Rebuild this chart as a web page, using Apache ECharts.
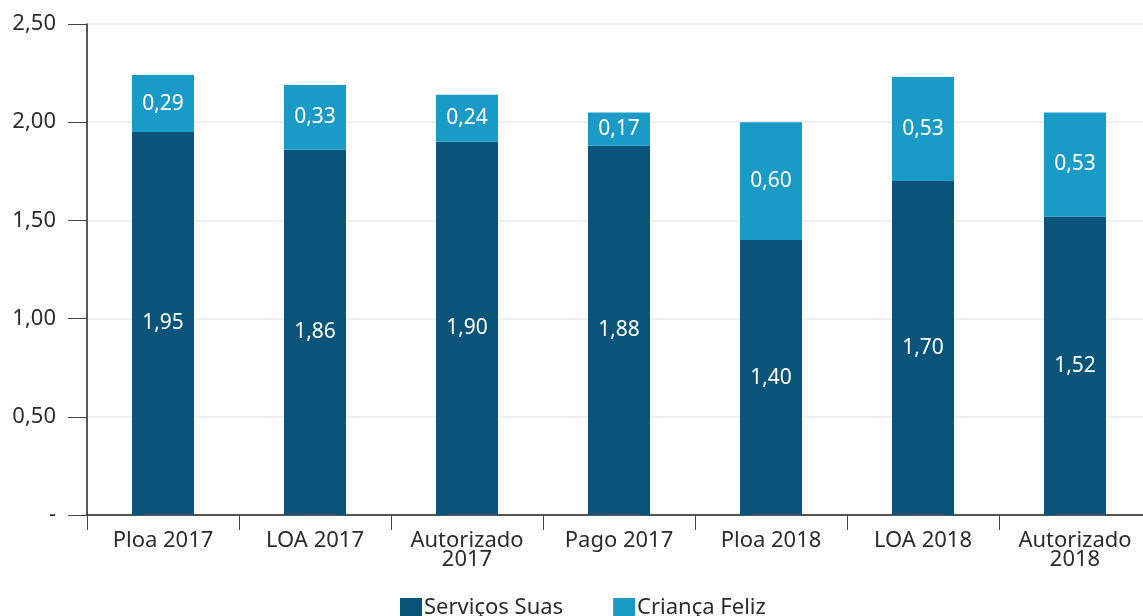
<!DOCTYPE html>
<html>
<head>
<meta charset="utf-8">
<script src="https://cdn.jsdelivr.net/npm/echarts@6/dist/echarts.min.js"></script>
<style>
  html, body { margin: 0; padding: 0; background: #ffffff; }
  #chart { width: 1143px; height: 616px; }
</style>
</head>
<body>
<div id="chart"></div>
<script>
// Budget by stage (R$ bilhões)
const categories = ['Ploa 2017', 'LOA 2017', 'Autorizado\n2017', 'Pago 2017', 'Ploa 2018', 'LOA 2018', 'Autorizado\n2018'];
const servicosSuas = [1.95, 1.86, 1.90, 1.88, 1.40, 1.70, 1.52];
const criancaFeliz = [0.29, 0.33, 0.24, 0.17, 0.60, 0.53, 0.53];
const seriesNames = ['Serviços Suas', 'Criança Feliz'];
const colors = ['#0a5479', '#1a9bc7'];

const fmt = v => v.toFixed(2).replace('.', ',');
const font = 'Noto Sans';
const textColor = '#2b2b2b';

const chart = echarts.init(document.getElementById('chart'));

const labelStyle = {
  show: true,
  position: 'inside',
  color: '#ffffff',
  fontFamily: font,
  fontSize: 21,
  formatter: p => fmt(p.value)
};

chart.setOption({
  animation: false,
  textStyle: { fontFamily: font },
  // plot area runs slightly past the right edge of the canvas
  grid: { left: 87, width: 1064, top: 24, bottom: 101, containLabel: false, outerBoundsMode: 'none' },
  legend: {
    top: 597,
    left: 400,
    itemWidth: 22,
    itemHeight: 20,
    itemGap: 50,
    icon: 'rect',
    padding: 0,
    textStyle: { fontFamily: font, fontSize: 22, color: textColor, padding: [0, 0, 0, -3] },
    data: seriesNames
  },
  xAxis: {
    type: 'category',
    data: categories,
    axisLine: { lineStyle: { color: '#222222', width: 1.5 } },
    axisTick: { show: true, alignWithLabel: false, length: 15, lineStyle: { color: '#444444' } },
    axisLabel: {
      color: textColor,
      fontFamily: font,
      fontSize: 22,
      lineHeight: 19,
      margin: 16,
      interval: 0
    }
  },
  yAxis: {
    type: 'value',
    min: 0,
    max: 2.5,
    interval: 0.5,
    axisLine: { show: true, lineStyle: { color: '#222222', width: 1.5 } },
    axisTick: { show: true, length: 19, lineStyle: { color: '#444444' } },
    splitLine: { show: true, lineStyle: { color: '#ebebeb', width: 1.5 } },
    axisLabel: {
      color: textColor,
      fontFamily: font,
      fontSize: 22,
      margin: 31,
      formatter: v => (v === 0 ? '-' : fmt(v))
    }
  },
  series: [
    {
      name: seriesNames[0],
      type: 'bar',
      stack: 'total',
      barWidth: 62,
      itemStyle: { color: colors[0] },
      label: labelStyle,
      data: servicosSuas
    },
    {
      name: seriesNames[1],
      type: 'bar',
      stack: 'total',
      barWidth: 62,
      itemStyle: { color: colors[1] },
      label: labelStyle,
      data: criancaFeliz
    }
  ]
});
</script>
</body>
</html>
